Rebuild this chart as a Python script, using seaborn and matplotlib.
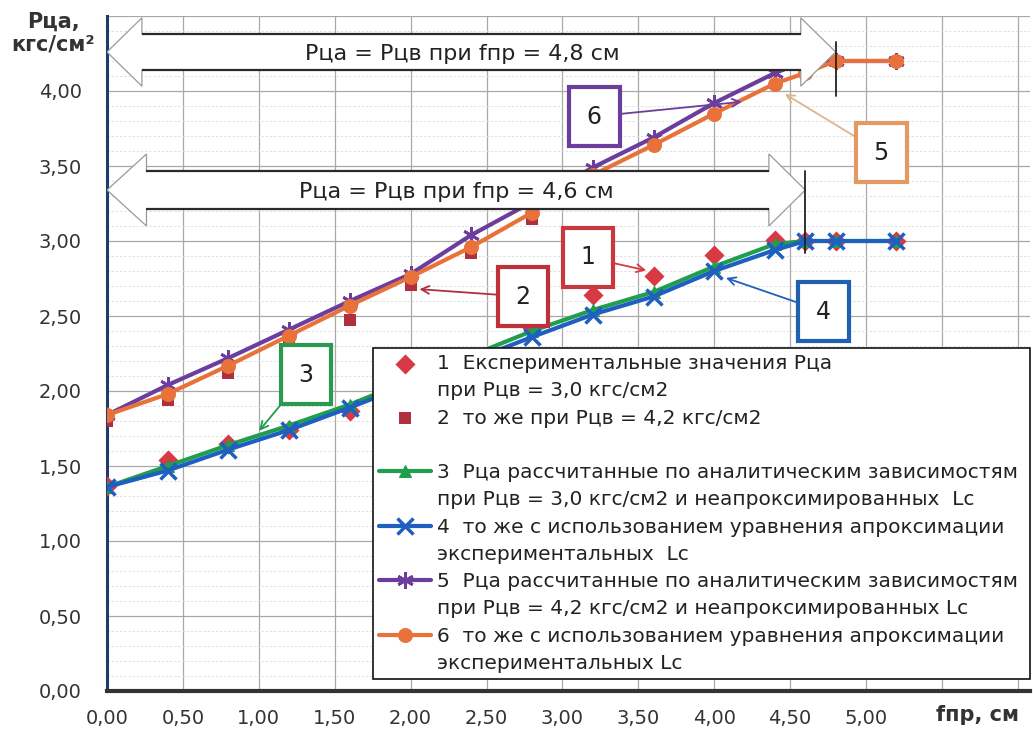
import numpy as np
import pandas as pd
import matplotlib
matplotlib.use("Agg")
import matplotlib.pyplot as plt
from matplotlib.lines import Line2D
from matplotlib.patches import Polygon
from matplotlib.ticker import MultipleLocator
import seaborn as sns

# ---- data: deflection fпр (cm) vs pressure Рца (кгс/см2) ----
# 1: experimental, Рцв = 3,0
f_exp30 = [0.0, 0.4, 0.8, 1.2, 1.6, 2.8, 3.2, 3.6, 4.0, 4.4, 4.6, 4.8, 5.2]
p_exp30 = [1.37, 1.54, 1.65, 1.74, 1.87, 2.42, 2.64, 2.77, 2.91, 3.01, 3.00, 3.00, 3.00]
# 2: experimental, Рцв = 4,2
f_exp42 = [0.0, 0.4, 0.8, 1.2, 1.6, 2.0, 2.4, 2.8]
p_exp42 = [1.80, 1.94, 2.12, 2.33, 2.47, 2.71, 2.92, 3.15]
# 3, 4: calculated, Рцв = 3,0
f_calc30 = [0.0, 0.4, 0.8, 1.2, 1.6, 2.8, 3.2, 3.6, 4.0, 4.4, 4.6, 4.8, 5.2]
p_calc3 = [1.36, 1.50, 1.64, 1.77, 1.91, 2.40, 2.54, 2.66, 2.83, 2.98, 3.00, 3.00, 3.00]
p_calc4 = [1.36, 1.47, 1.61, 1.74, 1.89, 2.36, 2.51, 2.63, 2.80, 2.94, 3.00, 3.00, 3.00]
# 5, 6: calculated, Рцв = 4,2
f_calc42 = [0.0, 0.4, 0.8, 1.2, 1.6, 2.0, 2.4, 2.8, 3.2, 3.6, 4.0, 4.4, 4.6, 4.8, 5.2]
p_calc5 = [1.84, 2.04, 2.22, 2.41, 2.60, 2.78, 3.04, 3.26, 3.49, 3.69, 3.92, 4.12, 4.20, 4.20, 4.20]
p_calc6 = [1.84, 1.98, 2.17, 2.37, 2.57, 2.76, 2.96, 3.19, 3.44, 3.64, 3.85, 4.05, 4.12, 4.20, 4.20]

# fпр at which Рца reaches Рцв
f_eq_42 = 4.8
f_eq_30 = 4.6

x_ticks = [0.0, 0.5, 1.0, 1.5, 2.0, 2.5, 3.0, 3.5, 4.0, 4.5, 5.0, 5.5, 6.0]
x_tick_labels = ["0,00", "0,50", "1,00", "1,50", "2,00", "2,50", "3,00", "3,50",
                 "4,00", "4,50", "5,00", "", ""]
y_ticks = [0.0, 0.5, 1.0, 1.5, 2.0, 2.5, 3.0, 3.5, 4.0, 4.5]
y_tick_labels = ["0,00", "0,50", "1,00", "1,50", "2,00", "2,50", "3,00", "3,50", "4,00", ""]

legend_rows = [
    "1  Експериментальные значения Рца",
    "при Рцв = 3,0 кгс/см2",
    "2  то же при Рцв = 4,2 кгс/см2",
    " ",
    "3  Рца рассчитанные по аналитическим зависимостям",
    "при Рцв = 3,0 кгс/см2 и неапроксимированных  Lc",
    "4  то же с использованием уравнения апроксимации",
    "экспериментальных  Lc",
    "5  Рца рассчитанные по аналитическим зависимостям",
    "при Рцв = 4,2 кгс/см2 и неапроксимированных Lc",
    "6  то же с использованием уравнения апроксимации",
    "экспериментальных Lc",
]

C_EXP30 = "#D83A45"
C_EXP42 = "#B02F3E"
C_GREEN = "#1F9E4E"
C_BLUE = "#1E5FC0"
C_PURPLE = "#6B3E9E"
C_ORANGE = "#E8723A"

sns.set_style("white")
plt.rcParams["font.family"] = ["DejaVu Sans"]

fig = plt.figure(figsize=(10.33, 7.47), dpi=100)
ax = fig.add_axes([107 / 1033, 56 / 747, 923 / 1033, 675 / 747])

df_exp30 = pd.DataFrame({"f": f_exp30, "p": p_exp30})
df_exp42 = pd.DataFrame({"f": f_exp42, "p": p_exp42})
df_c30 = pd.DataFrame({"f": f_calc30, "p3": p_calc3, "p4": p_calc4})
df_c42 = pd.DataFrame({"f": f_calc42, "p5": p_calc5, "p6": p_calc6})

sns.scatterplot(data=df_exp30, x="f", y="p", ax=ax, marker="D", s=105,
                color=C_EXP30, linewidth=0, zorder=3)
h1 = ax.collections[-1]
sns.scatterplot(data=df_exp42, x="f", y="p", ax=ax, marker="s", s=80,
                color=C_EXP42, linewidth=0, zorder=3)
h2 = ax.collections[-1]
sns.lineplot(data=df_c30, x="f", y="p3", ax=ax, color=C_GREEN, linewidth=3,
             marker="^", markersize=9, markeredgecolor=C_GREEN, zorder=4)
h3 = ax.lines[-1]
sns.lineplot(data=df_c30, x="f", y="p4", ax=ax, color=C_BLUE, linewidth=3,
             marker="x", markersize=11, markeredgewidth=2.5,
             markeredgecolor=C_BLUE, zorder=5)
h4 = ax.lines[-1]
sns.lineplot(data=df_c42, x="f", y="p5", ax=ax, color=C_PURPLE, linewidth=3,
             marker=(6, 2, 0), markersize=12, markeredgewidth=2,
             markeredgecolor=C_PURPLE, zorder=6)
h5 = ax.lines[-1]
sns.lineplot(data=df_c42, x="f", y="p6", ax=ax, color=C_ORANGE, linewidth=3,
             marker="o", markersize=10, markeredgecolor=C_ORANGE, zorder=7)
h6 = ax.lines[-1]

# axes, ticks, grid
ax.set_xlim(0, 6.08)
ax.set_ylim(0, 4.5)
ax.set_xticks(x_ticks)
ax.set_xticklabels(x_tick_labels)
ax.set_yticks(y_ticks)
ax.set_yticklabels(y_tick_labels)
ax.yaxis.set_minor_locator(MultipleLocator(0.1))
ax.set_xlabel("")
ax.set_ylabel("")
ax.tick_params(axis="both", which="major", labelsize=14, labelcolor="#333333",
               direction="out", length=6, width=1.5, color="#333333")
ax.tick_params(axis="y", which="major", pad=12)
ax.tick_params(axis="x", which="major", pad=7)
ax.tick_params(axis="y", which="minor", length=0)
ax.grid(True, which="major", color="#a8a8a8", linewidth=0.9)
ax.grid(True, which="minor", axis="y", color="#dcdcdc", linewidth=0.6,
        linestyle=(0, (3, 2)))
ax.set_axisbelow(True)
for side in ("top", "right"):
    ax.spines[side].set_visible(False)
ax.spines["left"].set_color("#1F3A6B")
ax.spines["left"].set_linewidth(2.2)
ax.spines["bottom"].set_color("#333333")
ax.spines["bottom"].set_linewidth(3)

# axis titles
fig.text(53 / 1033, 1 - 12 / 747, "Рца,\nкгс/см²", ha="center", va="top",
         fontsize=15, fontweight="bold", color="#333333", linespacing=1.15)
fig.text(978 / 1033, 1 - 715 / 747, "fпр, см", ha="center", va="center",
         fontsize=15, fontweight="bold", color="#333333")


# double-headed block arrows marking where Рца = Рцв
def block_arrow(x0, x1, yc, shaft, head, base0, base1, text, text_x):
    pts = [(x0, yc), (base0, yc + head), (base0, yc + shaft), (base1, yc + shaft),
           (base1, yc + head), (x1, yc), (base1, yc - head), (base1, yc - shaft),
           (base0, yc - shaft), (base0, yc - head)]
    ax.add_patch(Polygon(pts, closed=True, facecolor="white", edgecolor="#9a9a9a",
                         linewidth=0.9, zorder=10))
    for yy in (yc + shaft, yc - shaft):
        ax.plot([base0, base1], [yy, yy], color="#2a2a2a", linewidth=1.6,
                zorder=10.5, solid_capstyle="butt")
    ax.text(text_x, yc - 0.01, text, ha="center", va="center", fontsize=16,
            color="#222222", zorder=12)


block_arrow(0.0, f_eq_42, 4.26, 0.119, 0.228, 0.23, f_eq_42 - 0.23,
            f"Рца = Рцв при fпр = {f_eq_42:.1f} см".replace(".", ","), 2.34)
block_arrow(0.0, f_eq_30, 3.34, 0.125, 0.24, 0.26, f_eq_30 - 0.24,
            f"Рца = Рцв при fпр = {f_eq_30:.1f} см".replace(".", ","), 2.30)
ax.plot([f_eq_42, f_eq_42], [3.97, 4.33], color="#222222", linewidth=1.3, zorder=11)
ax.plot([f_eq_30, f_eq_30], [2.92, 3.47], color="#222222", linewidth=1.3, zorder=11)

# numbered call-outs
callouts = [
    ("6", (4.20, 3.93), (3.21, 3.83), C_PURPLE, C_PURPLE),
    ("5", (4.45, 3.99), (5.10, 3.59), "#E39A62", "#E0B48A"),
    ("1", (3.57, 2.80), (3.17, 2.89), "#C8383F", C_EXP30),
    ("2", (2.04, 2.68), (2.74, 2.63), "#C0303A", C_EXP42),
    ("4", (4.06, 2.76), (4.72, 2.53), "#2060B0", C_BLUE),
    ("3", (0.99, 1.72), (1.31, 2.11), "#2A9A50", C_GREEN),
]
for label, target, box_at, edge, line_c in callouts:
    ax.annotate(label, xy=target, xytext=box_at, ha="center", va="center",
                fontsize=17, color="#222222", zorder=13,
                bbox=dict(boxstyle="square,pad=0.75", facecolor="white",
                          edgecolor=edge, linewidth=3),
                arrowprops=dict(arrowstyle="->", color=line_c, linewidth=1.3,
                                shrinkA=0, shrinkB=2, mutation_scale=14))

# legend with continuation rows
blank = Line2D([], [], linestyle="none")
handles = [h1, blank, h2, blank, h3, blank, h4, blank, h5, blank, h6, blank]
leg = ax.legend(handles, legend_rows, loc="upper left",
                bbox_to_anchor=(373 / 1033, 0.0, 657 / 1033, 1 - 348 / 747),
                bbox_transform=fig.transFigure, mode="expand", borderaxespad=0,
                fontsize=14.5, frameon=True, fancybox=False, framealpha=1,
                edgecolor="#111111", handlelength=2.6, handletextpad=0.3,
                labelspacing=0.41, borderpad=0.3)
leg.get_frame().set_linewidth(1.2)
leg.set_zorder(20)
for t in leg.get_texts():
    t.set_color("#222222")

fig.savefig("out.png", dpi=100)
